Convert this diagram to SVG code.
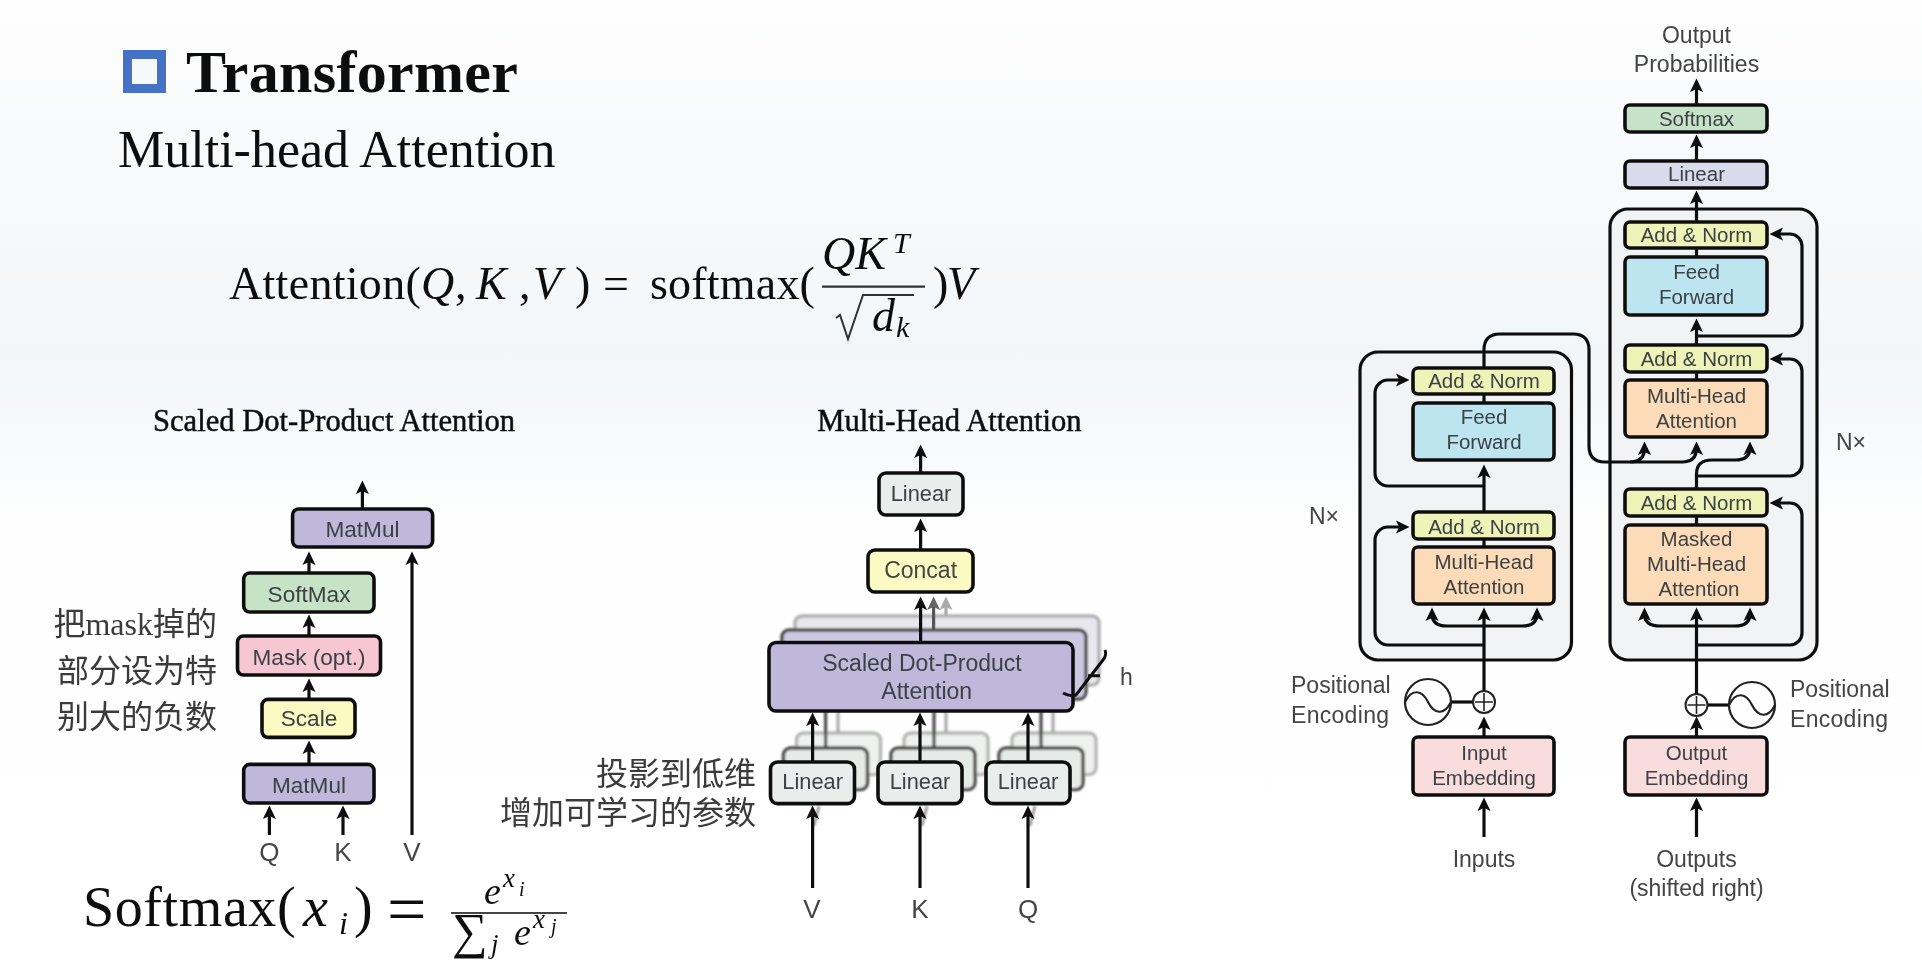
<svg xmlns="http://www.w3.org/2000/svg" width="1922" height="976" viewBox="0 0 1922 976">
<style>
text{font-family:"Liberation Sans",Arial,sans-serif;fill:#3c4045}
.c{text-anchor:middle}
.b{font-size:20.5px}
.m{font-size:22.6px}
.o{font-size:23px;fill:#444}
.l{font-size:26px;fill:#444}
.s,.s tspan{font-family:"Liberation Serif","Times New Roman",serif;fill:#111}
.i{font-style:italic}
.h{font-size:30.6px;stroke:#111;stroke-width:.5px}
.z{font-family:"Liberation Serif","Noto Sans CJK SC",sans-serif;font-size:32px;fill:#3a3a3a;text-anchor:end}
.box{stroke:#111;stroke-width:3.6px}
.cn{fill:none;stroke:#0c0c0c;stroke-width:3.2px}
.a{marker-end:url(#ah)}
.container{fill:#f2f3f4;stroke:#111;stroke-width:3.2px}
.pur{fill:#bfb8da}.grn{fill:#c6e3c6}.pnk{fill:#f7c6d3}.yel{fill:#fafac2}.gry{fill:#e9edec}
.ora{fill:#fcdcb8}.cya{fill:#bde5f0}.lim{fill:#eef4b8}.emb{fill:#f9dcdc}.lav{fill:#d9daec}.sft{fill:#c6e3c9}
</style>
<defs>
<linearGradient id="bg" x1="0" y1="0" x2="0" y2="1">
<stop offset="0" stop-color="#fefefe"/><stop offset=".13" stop-color="#f9fafb"/><stop offset=".36" stop-color="#f3f6f9"/><stop offset=".45" stop-color="#f7f9fb"/><stop offset=".53" stop-color="#fefefe"/><stop offset="1" stop-color="#ffffff"/>
</linearGradient>
<marker id="ah" markerUnits="userSpaceOnUse" markerWidth="16" markerHeight="16" refX="8" refY="7" orient="auto" viewBox="0 0 16 14">
<path d="M14.5 7L1 0.5L4 7L1 13.5Z" fill="#0c0c0c"/>
</marker>
<marker id="ahg" markerUnits="userSpaceOnUse" markerWidth="16" markerHeight="16" refX="8" refY="7" orient="auto" viewBox="0 0 16 14">
<path d="M14.5 7L1 0.5L4 7L1 13.5Z" fill="#666"/>
</marker>
<marker id="ahl" markerUnits="userSpaceOnUse" markerWidth="16" markerHeight="16" refX="8" refY="7" orient="auto" viewBox="0 0 16 14">
<path d="M14.5 7L1 0.5L4 7L1 13.5Z" fill="#aaa"/>
</marker>
<filter id="soft" x="-10%" y="-10%" width="120%" height="120%"><feGaussianBlur stdDeviation=".8"/></filter>
<filter id="video" filterUnits="userSpaceOnUse" x="0" y="0" width="1922" height="976"><feGaussianBlur stdDeviation=".5"/></filter>
</defs>
<rect width="1922" height="976" fill="url(#bg)"/>

<g id="slide" filter="url(#video)">
<g id="heading">
<rect x="127.5" y="54.5" width="34" height="34" fill="#f6f8fa" stroke="#4472c4" stroke-width="9"/>
<text class="s" x="186" y="92" font-size="60" font-weight="700" letter-spacing=".3">Transformer</text>
<text class="s" x="118" y="167" font-size="52">Multi-head Attention</text>
</g>

<g id="attention-formula">
<text class="s" y="299" font-size="46"><tspan x="229" letter-spacing=".3">Attention(</tspan><tspan x="421" class="i">Q</tspan><tspan x="455">,</tspan><tspan x="476" class="i">K</tspan><tspan x="519">,</tspan><tspan x="533" class="i">V</tspan><tspan x="575">)</tspan><tspan x="603">=</tspan><tspan x="650" letter-spacing=".2">softmax(</tspan></text>
<text class="s i" x="822" y="269" font-size="46">QK</text>
<text class="s i" x="893" y="253" font-size="30">T</text>
<path d="M822 286.7H925" stroke="#333" stroke-width="2.2" fill="none"/>
<path d="M836 318l4-3l8 24l15-44H914" stroke="#333" stroke-width="2" fill="none"/>
<text class="s i" x="872" y="331" font-size="46">d</text>
<text class="s i" x="896" y="337" font-size="30">k</text>
<text class="s" x="933" y="299" font-size="46">)</text>
<text class="s i" x="947" y="299" font-size="46">V</text>
</g>

<g id="softmax-formula">
<text class="s" y="926" font-size="56" letter-spacing=".6"><tspan x="83">Softmax(</tspan><tspan x="303" class="i">x</tspan><tspan x="339" y="934" font-size="32" class="i">i</tspan><tspan x="354" y="926">)</tspan><tspan x="387" y="933" font-size="70">=</tspan></text>
<text class="s i" x="484" y="904" font-size="38">e</text>
<text class="s i" x="503" y="887" font-size="27">x</text>
<text class="s i" x="519" y="896" font-size="20">i</text>
<path d="M451 913H567" stroke="#444" stroke-width="2" fill="none"/>
<text class="s" x="452" y="948" font-size="50">∑</text>
<text class="s i" x="491" y="953" font-size="27">j</text>
<text class="s i" x="514" y="945" font-size="38">e</text>
<text class="s i" x="533" y="928" font-size="27">x</text>
<text class="s i" x="551" y="933" font-size="20">j</text>
</g>

<text class="s h c" x="334" y="431">Scaled Dot-Product Attention</text>
<text class="s h c" x="949.5" y="431">Multi-Head Attention</text>

<g id="notes">
<text class="z" x="217" y="635">把mask掉的</text>
<text class="z" x="217" y="681.5">部分设为特</text>
<text class="z" x="217" y="728">别大的负数</text>
<text class="z" x="756" y="785">投影到低维</text>
<text class="z" x="756" y="824">增加可学习的参数</text>
</g>

<g id="encoder-block"><rect class="container" x="1360" y="352" width="211.5" height="308" rx="18"/></g>
<g id="decoder-block"><rect class="container" x="1610" y="209" width="207" height="451" rx="18"/></g>

<g id="multihead-stack" filter="url(#soft)">
<rect x="795" y="616" width="304" height="69" rx="7" fill="#e8e7ee" stroke="#b0b0b0" stroke-width="3.4"/>
<rect x="782" y="630" width="304" height="69" rx="7" fill="#cdc8e2" stroke="#4a4a4a" stroke-width="3.4"/>
<g fill="#eef1ee" stroke="#b4b7b4" stroke-width="3.4"><rect x="796.5" y="733" width="84" height="41.6" rx="7"/><rect x="904" y="733" width="84" height="41.6" rx="7"/><rect x="1012" y="733" width="84" height="41.6" rx="7"/></g>
<g fill="#e6ebe8" stroke="#4a4a4a" stroke-width="3.4"><rect x="783.5" y="748" width="84" height="41.6" rx="7"/><rect x="891" y="748" width="84" height="41.6" rx="7"/><rect x="999" y="748" width="84" height="41.6" rx="7"/></g>
<g fill="none" stroke="#4a4a4a" stroke-width="3.2"><path d="M825.6 711V748M934 711V748M1041 711V748"/></g>
<g fill="none" stroke="#aaa" stroke-width="3.2"><path d="M838 711V733M946 711V733M1053 711V733"/></g>
<g fill="none" stroke="#888" stroke-width="2.4"><path d="M819 806L814 826M927 806L922 826M1035 806L1030 826"/></g>
</g>

<g id="connectors">
<g class="cn">
<path class="a" d="M362.4 509V487"/>
<path class="a" d="M309 573V558"/>
<path class="a" d="M309 636V621"/>
<path class="a" d="M309 699V685"/>
<path class="a" d="M309 764V747"/>
<path class="a" d="M269.4 835V812"/>
<path class="a" d="M343 835V812"/>
<path class="a" d="M412 835V558"/>

<path class="a" d="M920.6 473V451"/>
<path class="a" d="M920.6 550V525"/>
<path class="a" d="M920.6 642V603"/>
<path d="M933.6 630V603" stroke="#555" marker-end="url(#ahg)"/>
<path d="M946 616V603" stroke="#aaa" marker-end="url(#ahl)"/>
<path class="a" d="M812.6 762V719"/>
<path class="a" d="M920 762V719"/>
<path class="a" d="M1028 762V719"/>
<path class="a" d="M812.6 888V812"/>
<path class="a" d="M920 888V812"/>
<path class="a" d="M1028 888V812"/>

<path class="a" d="M1696.5 105V85"/>
<path class="a" d="M1696.5 161V141"/>
<path class="a" d="M1696.5 222V197"/>
<path d="M1696.5 257V248"/>
<path class="a" d="M1696.5 345V325"/>
<path d="M1696.5 380V372"/>
<path class="a" d="M1696.5 336H1790a12 12 0 0 0 12-12V246a12 12 0 0 0-12-12H1776"/>
<path class="a" d="M1696.5 476H1790a12 12 0 0 0 12-12V371a12 12 0 0 0-12-12H1776"/>
<path class="a" d="M1696.5 489V474Q1696.5 460 1712 460H1735Q1750 460 1750 448"/>
<path class="a" d="M1484 368V350Q1484 334 1500 334H1573Q1589 334 1589 350V446Q1589 462 1605 462H1682Q1696.5 462 1696.5 448"/>
<path class="a" d="M1630 462Q1644.5 462 1644.5 448"/>
<path d="M1696.5 525V516"/>
<path class="a" d="M1696.5 694V614"/>
<path class="a" d="M1696.5 626H1660Q1644.5 626 1644.5 614"/>
<path class="a" d="M1696.5 626H1735Q1750 626 1750 614"/>
<path class="a" d="M1696.5 645H1790a12 12 0 0 0 12-12V515a12 12 0 0 0-12-12H1776"/>
<path class="a" d="M1696.5 737V723"/>
<path class="a" d="M1696.5 837V804"/>
<path d="M1708 705H1729"/>

<path d="M1484 403V394"/>
<path class="a" d="M1484 512V471"/>
<path class="a" d="M1484 486H1388a13 13 0 0 1-13-13V393a13 13 0 0 1 13-13H1403"/>
<path d="M1484 547V539"/>
<path class="a" d="M1484 691V614"/>
<path class="a" d="M1484 626H1447Q1432 626 1432 614"/>
<path class="a" d="M1484 626H1522Q1537 626 1537 614"/>
<path class="a" d="M1484 645H1388a13 13 0 0 1-13-13V540a13 13 0 0 1 13-13H1403"/>
<path class="a" d="M1484 737V723"/>
<path class="a" d="M1484 837V804"/>
<path d="M1451 702H1473"/>
</g>
</g>

<g id="sd-matmul-top"><rect class="box pur" x="292.6" y="509" width="140" height="38" rx="6"/><text class="c m" x="362.5" y="537">MatMul</text></g>
<g id="sd-softmax"><rect class="box grn" x="243.7" y="573" width="130.3" height="39" rx="6"/><text class="c m" x="309" y="602">SoftMax</text></g>
<g id="sd-mask"><rect class="box pnk" x="237.5" y="636" width="143" height="39" rx="6"/><text class="c m" x="309" y="665">Mask (opt.)</text></g>
<g id="sd-scale"><rect class="box yel" x="262" y="699.4" width="93" height="38" rx="6"/><text class="c m" x="309" y="726">Scale</text></g>
<g id="sd-matmul"><rect class="box pur" x="243.7" y="764.4" width="130.3" height="38.6" rx="6"/><text class="c m" x="309" y="793">MatMul</text></g>
<g id="sd-q"><text class="c l" x="269.4" y="861">Q</text></g>
<g id="sd-k"><text class="c l" x="343" y="861">K</text></g>
<g id="sd-v"><text class="c l" x="412" y="861">V</text></g>

<g id="mh-linear-top"><rect class="box gry" x="879" y="473" width="84" height="42" rx="7"/><text class="c" font-size="21.8" x="921" y="501">Linear</text></g>
<g id="mh-concat"><rect class="box yel" x="868" y="550" width="105" height="42" rx="7"/><text class="c o" x="920.6" y="578">Concat</text></g>
<g id="mh-scaled"><rect class="box pur" x="769" y="642.5" width="304" height="68.5" rx="7"/><text class="c" font-size="23" x="922" y="671.4">Scaled Dot-Product</text><text class="c" font-size="23" x="926.7" y="699">Attention</text></g>
<g id="mh-h"><path d="M1105 650Q1107 655 1103 660L1076 695Q1070 697 1063 693M1088 675.7H1100" fill="none" stroke="#111" stroke-width="3"/><text class="o" x="1120" y="684.6">h</text></g>
<g id="mh-linear-v"><rect class="box gry" x="770.5" y="762" width="84" height="41.6" rx="7"/><text class="c" font-size="21.8" x="812.6" y="789">Linear</text></g>
<g id="mh-linear-k"><rect class="box gry" x="878" y="762" width="84" height="41.6" rx="7"/><text class="c" font-size="21.8" x="920" y="789">Linear</text></g>
<g id="mh-linear-q"><rect class="box gry" x="986" y="762" width="84" height="41.6" rx="7"/><text class="c" font-size="21.8" x="1028" y="789">Linear</text></g>
<g id="mh-v"><text class="c l" x="812" y="918">V</text></g>
<g id="mh-k"><text class="c l" x="920" y="918">K</text></g>
<g id="mh-q"><text class="c l" x="1028" y="918">Q</text></g>

<g id="t-output-prob"><text class="c o" x="1696.5" y="43">Output</text><text class="c o" x="1696.5" y="72">Probabilities</text></g>
<g id="t-softmax"><rect class="box sft" x="1625" y="105" width="142" height="27" rx="5"/><text class="c b" x="1696.5" y="126">Softmax</text></g>
<g id="t-linear"><rect class="box lav" x="1625" y="161" width="142" height="27" rx="5"/><text class="c b" x="1696.5" y="181">Linear</text></g>
<g id="d-addnorm3"><rect class="box lim" x="1625" y="222" width="142" height="26" rx="5"/><text class="c b" x="1696.5" y="242">Add &amp; Norm</text></g>
<g id="d-ff"><rect class="box cya" x="1625" y="257" width="142" height="58" rx="5"/><text class="c b" x="1696.5" y="279">Feed</text><text class="c b" x="1696.5" y="304">Forward</text></g>
<g id="d-addnorm2"><rect class="box lim" x="1625" y="345" width="142" height="27" rx="5"/><text class="c b" x="1696.5" y="366">Add &amp; Norm</text></g>
<g id="d-mha"><rect class="box ora" x="1625" y="380" width="142" height="57" rx="5"/><text class="c b" x="1696.5" y="403">Multi-Head</text><text class="c b" x="1696.5" y="428">Attention</text></g>
<g id="d-addnorm1"><rect class="box lim" x="1625" y="489" width="142" height="27" rx="5"/><text class="c b" x="1696.5" y="510">Add &amp; Norm</text></g>
<g id="d-masked"><rect class="box ora" x="1625" y="525" width="142" height="79" rx="5"/><text class="c b" x="1696.5" y="546">Masked</text><text class="c b" x="1696.5" y="571">Multi-Head</text><text class="c b" x="1699" y="596">Attention</text></g>
<g id="d-embedding"><rect class="box emb" x="1625" y="737" width="142" height="58" rx="5"/><text class="c b" x="1696.5" y="760">Output</text><text class="c b" x="1696.5" y="785">Embedding</text></g>
<g id="e-addnorm2"><rect class="box lim" x="1413" y="368" width="141" height="26" rx="5"/><text class="c b" x="1484" y="388">Add &amp; Norm</text></g>
<g id="e-ff"><rect class="box cya" x="1413" y="403" width="141" height="57" rx="5"/><text class="c b" x="1484" y="424">Feed</text><text class="c b" x="1484" y="449">Forward</text></g>
<g id="e-addnorm1"><rect class="box lim" x="1413" y="512" width="141" height="27" rx="5"/><text class="c b" x="1484" y="534">Add &amp; Norm</text></g>
<g id="e-mha"><rect class="box ora" x="1413" y="547" width="141" height="57" rx="5"/><text class="c b" x="1484" y="569">Multi-Head</text><text class="c b" x="1484" y="594">Attention</text></g>
<g id="e-embedding"><rect class="box emb" x="1413" y="737" width="141" height="58" rx="5"/><text class="c b" x="1484" y="760">Input</text><text class="c b" x="1484" y="785">Embedding</text></g>

<g id="e-plus"><circle cx="1484" cy="702" r="11" fill="#fff" stroke="#222" stroke-width="2"/><path d="M1484 693V711M1475 702H1493" stroke="#222" stroke-width="1.6"/></g>
<g id="e-pos"><circle cx="1428" cy="702" r="23" fill="none" stroke="#222" stroke-width="2.2"/><path d="M1405 702C1412 688 1422 690 1428 702C1434 714 1444 716 1451 702" fill="none" stroke="#222" stroke-width="2.2"/></g>
<g id="d-plus"><circle cx="1696.5" cy="705" r="11" fill="#fff" stroke="#222" stroke-width="2"/><path d="M1696.5 696V714M1687.5 705H1705.5" stroke="#222" stroke-width="1.6"/></g>
<g id="d-pos"><circle cx="1752" cy="705" r="23" fill="none" stroke="#222" stroke-width="2.2"/><path d="M1729 705C1736 691 1746 693 1752 705C1758 717 1768 719 1775 705" fill="none" stroke="#222" stroke-width="2.2"/></g>

<g id="t-labels">
<text class="o" x="1291" y="693">Positional</text><text class="o" x="1291" y="723" letter-spacing=".3">Encoding</text>
<text class="o" x="1790" y="697">Positional</text><text class="o" x="1790" y="727" letter-spacing=".3">Encoding</text>
<text class="o" x="1309" y="524">N×</text><text class="o" x="1836" y="450">N×</text>
<text class="c o" x="1484" y="867">Inputs</text>
<text class="c o" x="1696.5" y="867">Outputs</text><text class="c o" x="1696.5" y="896">(shifted right)</text>
</g>
</g>
</svg>
